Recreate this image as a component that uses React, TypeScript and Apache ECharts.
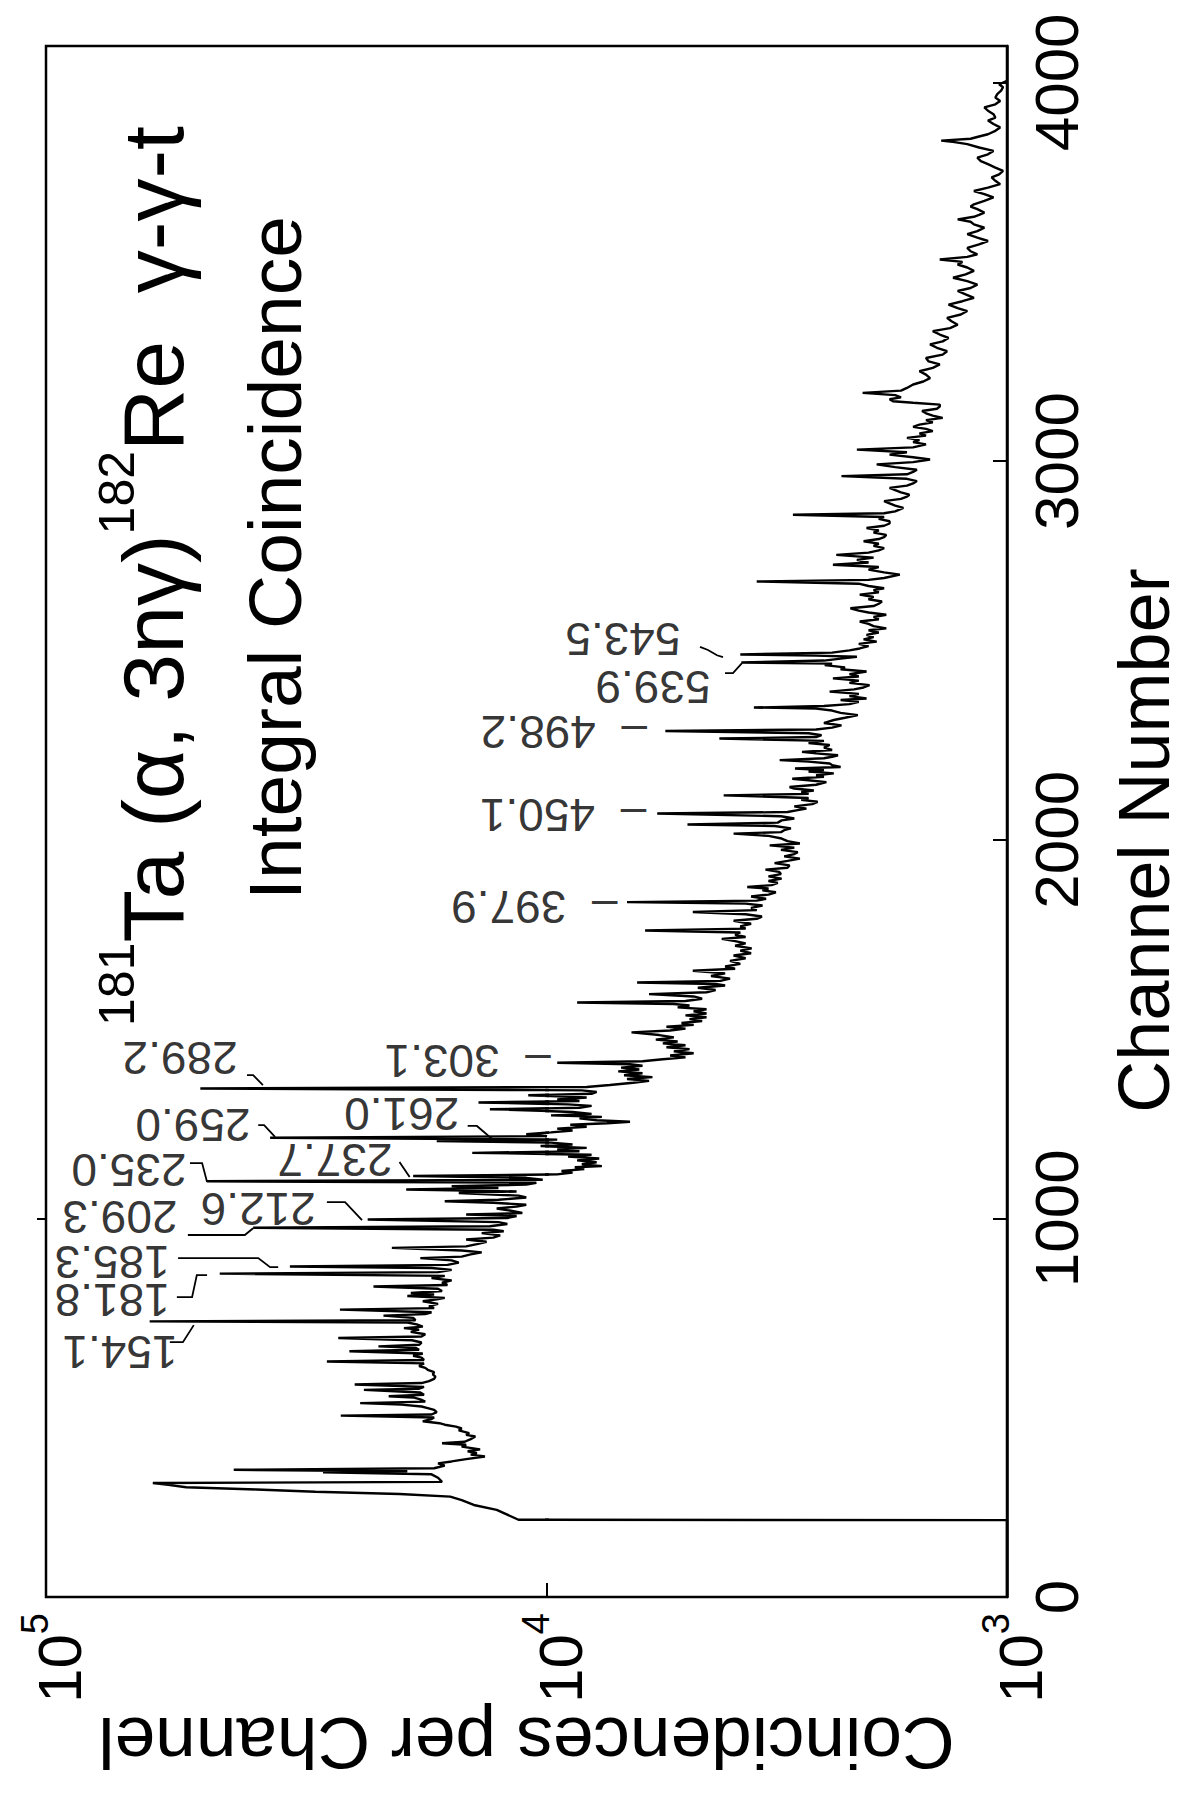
import React, { useEffect, useRef } from "react";
import * as echarts from "echarts";

// ---- Spectrum: [channel, coincidences per channel] ----
const spectrumLow: [number, number][] = [
  [0, 1000], [203, 1000], [204, 11400], [230, 12600], [243, 14000], [256, 14800], [265, 15600],
  [272, 19700], [278, 29000], [284, 38000], [290, 52500], [296, 57000], [301, 61200], [304, 16200],
  [315, 16500], [324, 17000], [329, 28000], [332, 19000], [336, 42200], [340, 16800], [347, 16000],
  [353, 16500], [358, 15500], [364, 14500], [371, 13300], [376, 14200], [380, 13800], [385, 14400],
  [390, 13600], [397, 14800], [402, 14500], [406, 16200], [410, 14600], [417, 14200], [424, 13900],
  [428, 14500], [433, 14300], [440, 15000], [445, 14800], [450, 15200], [455, 16000], [459, 16400],
  [464, 17700], [470, 17000], [474, 16800], [479, 25800], [482, 17000], [488, 16600], [494, 16800],
  [499, 17300], [503, 17800], [508, 19500], [512, 23600], [516, 17500], [522, 17900], [527, 18500],
  [530, 20700], [534, 17600], [540, 17900], [547, 23200], [550, 18000], [555, 17600], [561, 24200],
  [565, 17800], [570, 17200], [576, 16800], [582, 16700], [588, 16900], [594, 16800], [600, 17300],
  [605, 17500], [610, 18000], [617, 17600], [622, 27500], [626, 17600], [632, 17800], [637, 18500],
  [643, 17700], [649, 24800], [653, 18000], [658, 18300], [662, 21700], [666, 18000], [672, 17800],
  [678, 18600], [684, 26100], [688, 17800], [694, 17500], [700, 18700], [706, 18000], [710, 19300],
  [714, 17700], [720, 18200], [725, 19000], [728, 62100], [731, 18300], [737, 18500], [743, 21200],
  [747, 17500], [752, 17000], [759, 25900], [763, 16800], [768, 17200], [774, 16500], [781, 17700],
  [786, 16600], [790, 16000], [795, 19000], [799, 16800], [803, 18700], [808, 16200], [814, 16500],
  [820, 22200], [824, 15800], [830, 16200], [836, 15500], [842, 17000], [848, 16000], [854, 45000],
  [858, 16500], [864, 15500], [869, 17000], [873, 32600], [877, 15800], [883, 15000], [889, 15500],
  [895, 17900], [899, 14800], [905, 14200], [910, 13500], [915, 14800], [922, 20400], [926, 14500],
  [932, 13800], [938, 13200], [944, 14500], [949, 12800], [955, 12400], [961, 13500], [966, 12200],
  [970, 12800], [975, 38600], [979, 13000], [985, 12000], [990, 12500], [997, 22800], [1001, 12000],
];

const spectrumMid: [number, number][] = [
  [1006, 11500], [1010, 14500], [1014, 11200], [1020, 11800], [1026, 12600], [1031, 11500], [1036, 11000],
  [1041, 12800], [1045, 16000], [1049, 12500], [1055, 11000], [1060, 11400], [1067, 15000], [1071, 11500],
  [1076, 19100], [1080, 12500], [1085, 15500], [1089, 11000], [1094, 10500], [1098, 47700], [1102, 10200],
  [1107, 11000], [1112, 18500], [1116, 9500], [1121, 8800], [1125, 9300], [1130, 8300], [1135, 8700],
  [1138, 7600], [1143, 8400], [1148, 7800], [1153, 8600], [1158, 7700], [1163, 9000], [1168, 8000],
  [1173, 14100], [1177, 8500], [1182, 9500], [1186, 8200], [1191, 10300], [1195, 8800], [1200, 9800],
  [1204, 16600], [1208, 9500], [1213, 35700], [1217, 10000], [1222, 11000], [1227, 9800], [1232, 8800],
  [1237, 9500], [1242, 8200], [1247, 8900], [1251, 7400], [1255, 6600], [1259, 7800], [1264, 8500],
  [1268, 7600], [1272, 9800], [1276, 8000], [1281, 8800], [1288, 13000], [1292, 8500], [1297, 8000],
  [1301, 9000], [1306, 13700], [1310, 8500], [1314, 9500], [1319, 8200], [1325, 10900], [1329, 8000],
  [1334, 7800], [1338, 8400], [1343, 49200], [1347, 8200], [1352, 7300], [1358, 6500], [1363, 6000],
  [1368, 6700], [1373, 5900], [1378, 6800], [1383, 6200], [1388, 7000], [1393, 6300], [1398, 6900],
  [1403, 6200], [1407, 6600], [1411, 9500], [1415, 6200], [1420, 5600], [1425, 5000], [1430, 5400],
  [1436, 4800], [1441, 5300], [1447, 4900], [1452, 5500], [1457, 5000], [1462, 5600], [1467, 5200],
  [1472, 5800], [1478, 5300], [1484, 5700], [1491, 6550], [1496, 5400], [1501, 5000], [1506, 5500],
  [1511, 4800], [1516, 5100], [1521, 4600], [1526, 4900], [1531, 4500], [1536, 5000], [1541, 4500],
  [1547, 4800], [1552, 4500], [1557, 5200], [1562, 4900], [1566, 5300], [1570, 8600], [1574, 5000],
  [1580, 4600], [1586, 4800], [1592, 6000], [1597, 4500], [1603, 4300], [1609, 4700], [1615, 4100],
  [1619, 4300], [1623, 6370], [1627, 4200], [1633, 4000], [1640, 4400], [1647, 4100], [1654, 4820],
  [1659, 3900], [1665, 4100], [1672, 3800], [1680, 4000], [1687, 3700], [1694, 3930], [1700, 3600],
  [1707, 3800], [1713, 3590], [1720, 3900], [1726, 3700], [1732, 3900], [1738, 4170], [1743, 3700],
  [1749, 3900], [1755, 3800], [1760, 6120], [1765, 3700], [1771, 3800], [1778, 3600], [1786, 3930],
  [1791, 3500], [1797, 3410], [1803, 3700], [1809, 4820], [1814, 3500], [1820, 3600], [1826, 3400],
  [1831, 3700], [1835, 6700], [1839, 3500], [1844, 3340], [1850, 3600], [1855, 3300], [1861, 3180],
  [1866, 3400], [1871, 3300], [1875, 3670], [1880, 3250], [1886, 3150], [1891, 3300], [1897, 3090],
  [1903, 3300], [1909, 3100], [1915, 3130], [1921, 3350], [1926, 3000], [1932, 2970], [1938, 3200],
  [1944, 3000], [1950, 2820], [1956, 3050], [1962, 2900], [1967, 2850], [1973, 3100], [1979, 2900],
  [1985, 3280], [1990, 2820], [1996, 3000],
];

const spectrumHigh: [number, number][] = [
  [2003, 3090], [2010, 3300], [2016, 3930], [2020, 3100], [2025, 3050], [2030, 2950], [2036, 3200],
  [2040, 4950], [2045, 3150], [2051, 3090], [2056, 2900], [2062, 3100], [2069, 5760], [2073, 3000],
  [2078, 2850], [2082, 2730], [2088, 2900], [2094, 2650], [2100, 2580], [2105, 2800], [2110, 2700],
  [2117, 4130], [2121, 2700], [2126, 2800], [2130, 2630], [2135, 2900], [2139, 2970], [2145, 2600],
  [2152, 2470], [2157, 2700], [2161, 2930], [2166, 2500], [2170, 2600], [2175, 2380], [2180, 2700],
  [2184, 2500], [2188, 2890], [2192, 2300], [2197, 2400], [2201, 2430], [2206, 2700], [2210, 3120],
  [2215, 2500], [2219, 2400], [2223, 2330], [2228, 2600], [2232, 2790], [2237, 2400], [2243, 2500],
  [2250, 2430], [2255, 2700], [2261, 2500], [2267, 4220], [2271, 2600], [2276, 2530], [2281, 2700],
  [2287, 5530], [2291, 2600], [2296, 2400], [2302, 2290], [2308, 2500], [2316, 2380], [2322, 2250],
  [2329, 2110], [2335, 2300], [2341, 2400], [2346, 2600], [2349, 3550], [2353, 2500], [2358, 2200],
  [2364, 2100], [2369, 2300], [2373, 2020], [2379, 2200], [2385, 2100], [2391, 2430], [2397, 2150],
  [2402, 2050], [2408, 1990], [2414, 2200], [2420, 2100], [2426, 2390], [2431, 2100], [2437, 2200],
  [2444, 2020], [2450, 2300], [2455, 2250], [2461, 2490], [2465, 2400], [2468, 3780], [2473, 2500],
  [2478, 2300], [2483, 2120], [2486, 2600], [2489, 3800], [2494, 2400], [2500, 2200], [2505, 2090],
  [2511, 2000], [2517, 2100], [2523, 1920], [2529, 2050], [2535, 1950], [2541, 2020], [2547, 1900],
  [2553, 2000], [2558, 1830], [2564, 1950], [2570, 2000], [2576, 2090], [2582, 1900], [2588, 1950],
  [2594, 1830], [2600, 2000], [2605, 2100], [2611, 2190], [2617, 1950], [2623, 1900], [2629, 1870],
  [2635, 2000], [2641, 1950], [2647, 2090], [2653, 1900], [2659, 1950], [2664, 1850], [2670, 2000],
  [2676, 2100], [2682, 3500], [2686, 2000], [2691, 1850], [2700, 1710], [2706, 1850], [2713, 2000],
  [2720, 1900], [2726, 2390], [2732, 2000], [2739, 2120], [2745, 1950], [2752, 2350], [2758, 2000],
  [2764, 1900], [2770, 1850], [2776, 1950], [2782, 1900], [2788, 2050], [2794, 1900], [2799, 1850],
  [2805, 1830], [2811, 1950], [2817, 1900], [2823, 2020], [2829, 1850], [2835, 1800], [2841, 1800],
  [2847, 1900], [2852, 1850], [2858, 2920], [2862, 1850], [2867, 1750], [2876, 1680], [2882, 1750],
  [2888, 1800], [2894, 1850], [2900, 1700], [2906, 1650], [2911, 1630], [2917, 1700], [2923, 1750],
  [2929, 1800], [2935, 1650], [2941, 1600], [2947, 1570], [2953, 1650], [2960, 2290], [2965, 1650],
  [2971, 1600], [2977, 1570], [2984, 1750], [2991, 1920], [2997, 1600], [3004, 1470], [3010, 1600],
  [3017, 1800], [3023, 1650], [3030, 2120], [3036, 1600], [3044, 1500], [3050, 1600], [3055, 1550],
  [3061, 1650], [3067, 1500], [3073, 1550], [3079, 1450], [3085, 1500], [3090, 1600], [3096, 1550],
  [3102, 1450], [3108, 1500], [3114, 1380], [3120, 1450], [3126, 1500], [3132, 1530], [3138, 1420],
  [3144, 1400], [3149, 1400], [3154, 1600], [3158, 1770], [3163, 1800], [3168, 1700], [3174, 1750],
  [3180, 2060], [3186, 1700], [3193, 1650], [3202, 1600], [3210, 1520], [3219, 1470], [3228, 1500],
  [3237, 1550], [3246, 1450], [3255, 1400], [3263, 1480], [3272, 1500], [3281, 1380], [3290, 1350],
  [3299, 1420], [3308, 1470], [3316, 1380], [3325, 1340], [3334, 1400], [3343, 1450], [3351, 1330],
  [3360, 1280], [3369, 1320], [3378, 1350], [3387, 1260], [3396, 1220], [3404, 1280], [3413, 1340],
  [3422, 1250], [3431, 1180], [3440, 1230], [3449, 1280], [3457, 1200], [3466, 1160], [3475, 1220],
  [3484, 1310], [3493, 1230], [3502, 1180], [3511, 1220], [3519, 1280], [3526, 1250], [3532, 1400],
  [3539, 1220], [3546, 1160], [3554, 1200], [3563, 1220], [3572, 1150], [3581, 1100], [3590, 1160],
  [3599, 1220], [3607, 1160], [3616, 1120], [3625, 1180], [3632, 1200], [3638, 1280], [3645, 1180],
  [3650, 1150], [3656, 1120], [3665, 1160], [3672, 1200], [3678, 1180], [3687, 1120], [3696, 1070],
  [3705, 1120], [3713, 1180], [3722, 1100], [3731, 1035], [3740, 1060], [3749, 1080], [3757, 1040],
  [3766, 1020], [3775, 1060], [3784, 1100], [3792, 1140], [3801, 1160], [3810, 1100], [3819, 1070],
  [3828, 1150], [3837, 1220], [3842, 1300], [3846, 1390], [3851, 1200], [3857, 1150], [3863, 1100],
  [3872, 1060], [3881, 1035], [3890, 1070], [3899, 1100], [3907, 1060], [3916, 1070], [3925, 1100],
  [3934, 1120], [3942, 1060], [3951, 1035], [3960, 1060], [3969, 1050], [3978, 1030], [3987, 1020],
  [3995, 1040], [4004, 1000],
];

// ---- Axis ticks ----
const channelTicks = [0, 1000, 2000, 3000, 4000];
const leftEdgeTicks = [1000];
const decadeValues = [1000, 10000, 100000];
const decadeExponents = ["3", "4", "5"];

// ---- Peak labels (gamma energies in keV) ----
const peakNames = ["154.1", "181.8", "185.3", "209.3", "212.6", "235.0", "237.7", "259.0", "261.0",
  "289.2", "303.1", "397.9", "450.1", "498.2", "539.9", "543.5"];
const peakLabelChannel = [647, 784, 885, 1003, 1025, 1128, 1154, 1246, 1275, 1423, 1415, 1822, 2065, 2284, 2403, 2530];
const peakLabelCount = [71200, 73800, 73800, 71200, 37700, 68300, 26500, 50900, 19500, 54000, 14400, 10600, 9230, 9190, 5885, 6840];
const dashedPeaks = ["303.1", "397.9", "450.1", "498.2"];

// leader strokes from labels to peaks: channels and counts of their vertices
const leaderChannels = [
  [673, 673, 718], [792, 792, 850, 850], [895, 895, 871, 871], [956, 956, 974], [1043, 1043, 995],
  [1146, 1146, 1096], [1149, 1109], [1246, 1246, 1215], [1244, 1244, 1207], [1378, 1378, 1352],
  [2440, 2440, 2466], [2509, 2501, 2487, 2482],
];
const leaderCounts = [
  [56600, 53300, 50700], [54800, 51100, 50000, 47700], [54500, 37700, 35700, 34400], [52100, 40100, 38600],
  [27500, 25300, 23400], [51600, 48800, 47700], [19700, 18800], [37700, 36700, 34900], [14400, 13800, 12800],
  [39700, 38600, 36900], [4102, 3942, 3768], [4650, 4467, 4270, 4144],
];

const FONT = "Liberation Sans";

export default function App() {
  const ref = useRef<HTMLDivElement>(null);

  useEffect(() => {
    const chart = echarts.init(ref.current as HTMLDivElement, null, { renderer: "svg" });
    const spectrum = [...spectrumLow, ...spectrumMid, ...spectrumHigh].map(([ch, c]) => [c, ch]);

    // the printed log axis has unequal decades: 10^5-10^4 and 10^4-10^3 get their own sub-grids
    const FRAME = { left: 46, right: 179, top: 46, bottom: 198 };
    const DECADE_SPLIT_RIGHT = 639; // right offset of the 10^4 tick
    const DECADE_SPLIT_LEFT = 547;

    const decadeLabel = (v: number) => {
      const i = decadeValues.findIndex((d) => Math.abs(d - v) / d < 1e-6);
      return i < 0 ? "" : `{b|10}{s|${decadeExponents[i]}}`;
    };
    const labelRich = {
      b: { fontSize: 62, fontFamily: FONT, color: "#000", padding: [12, 0, 0, 0], verticalAlign: "bottom" },
      s: { fontSize: 38, fontFamily: FONT, color: "#000", verticalAlign: "top" },
    };
    const hiddenY = (gridIndex: number) => ({
      type: "value", gridIndex, min: 0, max: 4096, show: false,
      axisLine: { show: false }, axisTick: { show: false }, axisLabel: { show: false }, splitLine: { show: false },
    });

    const inHigh = (c: number) => c >= 10000;
    const labelsHigh: any[] = [];
    const labelsLow: any[] = [];
    peakNames.forEach((n, i) => {
      const item = { name: n, value: [peakLabelCount[i], peakLabelChannel[i]] };
      (inHigh(peakLabelCount[i]) ? labelsHigh : labelsLow).push(item);
    });
    const leadersHigh: any[] = [];
    const leadersLow: any[] = [];
    leaderCounts.forEach((cs, i) => {
      const item = { coords: cs.map((c, j) => [c, leaderChannels[i][j]]) };
      (inHigh(Math.min(...cs)) ? leadersHigh : leadersLow).push(item);
    });

    const labelSeries = (xi: number, yi: number, data: any[]) => ({
      type: "scatter", xAxisIndex: xi, yAxisIndex: yi, symbolSize: 0, silent: true, clip: false, data,
      label: {
        show: true, position: "inside", rotate: 180, fontSize: 46, fontFamily: FONT, color: "#000",
        formatter: (p: any) => (dashedPeaks.includes(p.name) ? "–  " + p.name : p.name),
      },
      z: 5,
    });
    const leaderSeries = (xi: number, yi: number, data: any[]) => ({
      type: "lines", coordinateSystem: "cartesian2d", xAxisIndex: xi, yAxisIndex: yi, polyline: true,
      silent: true, lineStyle: { color: "#000", width: 1.8, opacity: 1, curveness: 0 }, data, z: 4,
    });
    const spectrumSeries = (xi: number, yi: number) => ({
      type: "line", xAxisIndex: xi, yAxisIndex: yi, data: spectrum, clip: true,
      showSymbol: false, symbol: "none", silent: true, lineStyle: { color: "#000", width: 2.4 }, z: 3,
    });

    const option: any = {
      animation: false,
      backgroundColor: "#fff",
      textStyle: { fontFamily: FONT, color: "#000" },
      grid: [
        {
          ...FRAME, containLabel: false, outerBoundsMode: "none",
          show: true, borderColor: "#000", borderWidth: 2.5, backgroundColor: "transparent",
        },
        { left: FRAME.left, right: DECADE_SPLIT_RIGHT, top: FRAME.top, bottom: FRAME.bottom, containLabel: false, outerBoundsMode: "none" },
        { left: DECADE_SPLIT_LEFT, right: FRAME.right, top: FRAME.top, bottom: FRAME.bottom, containLabel: false, outerBoundsMode: "none" },
      ],
      xAxis: [
        {
          type: "log", gridIndex: 0, min: 1000, max: 100000, inverse: true, position: "bottom",
          axisLine: { show: false }, axisTick: { show: false }, axisLabel: { show: false },
          splitLine: { show: false }, minorTick: { show: false },
          name: "Coincidences per Channel",
          nameLocation: "middle",
          nameRotate: 180,
          nameGap: 110,
          nameTextStyle: { fontSize: 73, fontFamily: FONT, color: "#000" },
        },
        {
          type: "log", gridIndex: 1, min: 10000, max: 100000, inverse: true, position: "bottom",
          axisLine: { show: false },
          axisTick: { show: true, inside: true, length: 14, lineStyle: { color: "#000", width: 2 } },
          splitLine: { show: false }, minorTick: { show: false },
          axisLabel: {
            show: true, rotate: 90, margin: 16, showMinLabel: true, showMaxLabel: true,
            padding: [14, 0, 0, 0], formatter: decadeLabel, rich: labelRich,
          },
        },
        {
          type: "log", gridIndex: 2, min: 1000, max: 10000, inverse: true, position: "bottom",
          axisLine: { show: false },
          axisTick: { show: true, inside: true, length: 14, lineStyle: { color: "#000", width: 2 } },
          splitLine: { show: false }, minorTick: { show: false },
          axisLabel: {
            show: true, rotate: 90, margin: 16, showMinLabel: true, showMaxLabel: true,
            padding: [14, 0, 0, 0],
            formatter: (v: number) => (v < 5000 ? decadeLabel(v) : ""),
            rich: labelRich,
          },
        },
      ],
      yAxis: [
        {
          type: "value", gridIndex: 0, min: 0, max: 4096, interval: 1000, position: "right",
          axisLine: { show: true, lineStyle: { color: "#000", width: 2.5 } },
          axisTick: { show: true, inside: true, length: 14, lineStyle: { color: "#000", width: 2 } },
          splitLine: { show: false },
          axisLabel: {
            rotate: 90, margin: 18, fontSize: 62, fontFamily: FONT, color: "#000", showMaxLabel: false,
            formatter: (v: number) => (channelTicks.includes(v) ? String(v) : ""),
          },
          name: "Channel Number",
          nameLocation: "middle",
          nameRotate: 90,
          nameGap: 101,
          nameTextStyle: { fontSize: 72, lineHeight: 72, fontFamily: FONT, color: "#000", padding: [0, 38, 0, 0] },
        },
        {
          type: "value", gridIndex: 0, min: 0, max: 4096, interval: 1000, position: "left",
          axisLine: { show: false },
          axisTick: {
            show: true, inside: false, length: 9, customValues: leftEdgeTicks,
            lineStyle: { color: "#000", width: 2 },
          },
          axisLabel: { show: false },
          splitLine: { show: false },
        },
        hiddenY(1),
        hiddenY(2),
      ],
      graphic: [
        {
          type: "text", x: 144, y: 576, rotation: Math.PI / 2, z: 10,
          style: {
            text: "{s|181}{b|Ta (α, 3nγ)}{s|182}{b|Re  γ-γ-t}",
            align: "center", verticalAlign: "middle", fill: "#000",
            rich: {
              b: { fontSize: 86, fontFamily: FONT, fill: "#000", padding: [18, 0, 0, 0], verticalAlign: "bottom" },
              s: { fontSize: 50, fontFamily: FONT, fill: "#000", verticalAlign: "top" },
            },
          },
        },
        {
          type: "text", x: 275, y: 558, rotation: Math.PI / 2, z: 10,
          style: {
            text: "Integral Coincidence", fontSize: 75, fontFamily: FONT, fill: "#000",
            align: "center", verticalAlign: "middle",
          },
        },
      ],
      series: [
        spectrumSeries(1, 2),
        spectrumSeries(2, 3),
        leaderSeries(1, 2, leadersHigh),
        leaderSeries(2, 3, leadersLow),
        labelSeries(1, 2, labelsHigh),
        labelSeries(2, 3, labelsLow),
      ],
    };

    chart.setOption(option);
    return () => chart.dispose();
  }, []);

  return <div ref={ref} style={{ position: "absolute", left: 0, top: 0, width: 1186, height: 1795 }} />;
}
